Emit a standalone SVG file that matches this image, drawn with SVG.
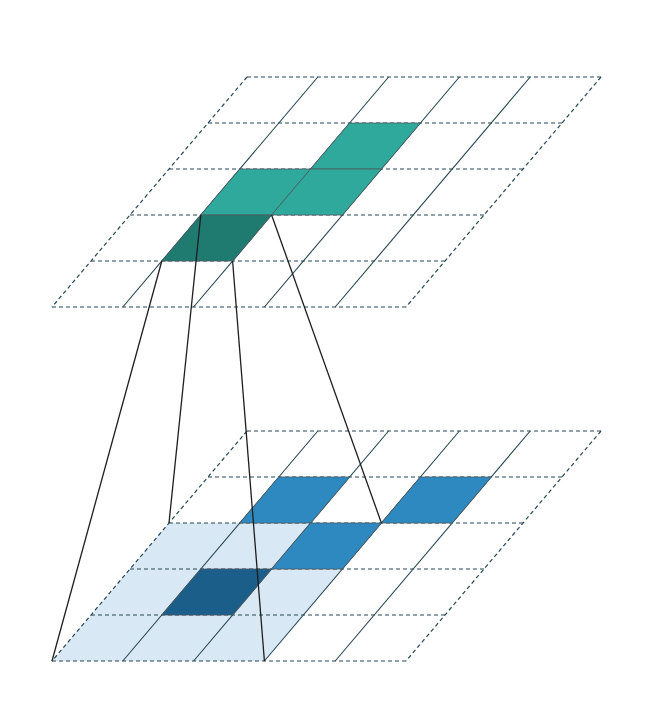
<svg xmlns="http://www.w3.org/2000/svg" width="672" height="715" viewBox="0 0 672 715">
<style>
.bg{fill:#ffffff}
.h{stroke:#264653;stroke-width:1.2;stroke-dasharray:4 3;fill:none}
.v{stroke:#264653;stroke-width:1.1;fill:none}
.cell{stroke:#4f5b60;stroke-width:0.8}
.teal{fill:#2ea99b}
.dteal{fill:#1f7a70}
.blue{fill:#2e89c1}
.dblue{fill:#1b5e8a}
.lblue{fill:#d9e8f5}
.conn{stroke:#1e1e1e;stroke-width:1.3;fill:none}
</style>
<rect class="bg" x="0" y="0" width="672" height="715"/>
<g id="bottom-highlight">
<polygon class="lblue" points="169,523 381.4,523 264.4,661 52,661"/>
</g>
<g id="top-grid">
<line class="h" x1="247" y1="77" x2="601" y2="77"/>
<line class="h" x1="208" y1="123" x2="562" y2="123"/>
<line class="h" x1="169" y1="169" x2="523" y2="169"/>
<line class="h" x1="130" y1="215" x2="484" y2="215"/>
<line class="h" x1="91" y1="261" x2="445" y2="261"/>
<line class="h" x1="52" y1="307" x2="406" y2="307"/>
<line class="h" x1="247" y1="77" x2="52" y2="307"/>
<line class="v" x1="317.8" y1="77" x2="122.8" y2="307"/>
<line class="v" x1="388.6" y1="77" x2="193.6" y2="307"/>
<line class="v" x1="459.4" y1="77" x2="264.4" y2="307"/>
<line class="v" x1="530.2" y1="77" x2="335.2" y2="307"/>
<line class="h" x1="601" y1="77" x2="406" y2="307"/>
</g>
<g id="bottom-grid">
<line class="h" x1="247" y1="431" x2="601" y2="431"/>
<line class="h" x1="208" y1="477" x2="562" y2="477"/>
<line class="h" x1="169" y1="523" x2="523" y2="523"/>
<line class="h" x1="130" y1="569" x2="484" y2="569"/>
<line class="h" x1="91" y1="615" x2="445" y2="615"/>
<line class="h" x1="52" y1="661" x2="406" y2="661"/>
<line class="h" x1="247" y1="431" x2="52" y2="661"/>
<line class="v" x1="317.8" y1="431" x2="122.8" y2="661"/>
<line class="v" x1="388.6" y1="431" x2="193.6" y2="661"/>
<line class="v" x1="459.4" y1="431" x2="264.4" y2="661"/>
<line class="v" x1="530.2" y1="431" x2="335.2" y2="661"/>
<line class="h" x1="601" y1="431" x2="406" y2="661"/>
</g>
<g id="top-cells">
<polygon class="cell teal" points="349.6,123 420.4,123 381.4,169 310.6,169"/>
<polygon class="cell teal" points="239.8,169 310.6,169 271.6,215 200.8,215"/>
<polygon class="cell teal" points="310.6,169 381.4,169 342.4,215 271.6,215"/>
<polygon class="cell dteal" points="200.8,215 271.6,215 232.6,261 161.8,261"/>
</g>
<g id="bottom-cells">
<polygon class="cell blue" points="278.8,477 349.6,477 310.6,523 239.8,523"/>
<polygon class="cell blue" points="420.4,477 491.2,477 452.2,523 381.4,523"/>
<polygon class="cell blue" points="310.6,523 381.4,523 342.4,569 271.6,569"/>
<polygon class="cell dblue" points="200.8,569 271.6,569 232.6,615 161.8,615"/>
</g>
<g id="connectors">
<line class="conn" x1="161.8" y1="261" x2="52" y2="661"/>
<line class="conn" x1="200.8" y1="215" x2="169" y2="523"/>
<line class="conn" x1="232.6" y1="261" x2="264.4" y2="661"/>
<line class="conn" x1="271.6" y1="215" x2="381.4" y2="523"/>
</g>
</svg>
